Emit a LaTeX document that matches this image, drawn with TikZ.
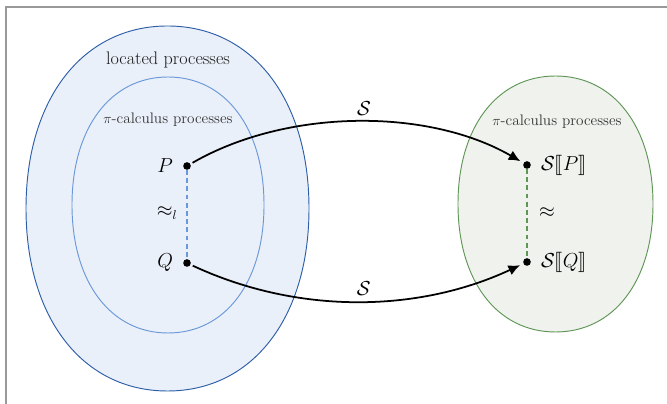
\documentclass[tikz,border=0pt]{standalone}
\usepackage{amsmath,amssymb,stmaryrd}
\usetikzlibrary{arrows.meta,positioning}
\definecolor{outerfill}{HTML}{EAF0F9}
\definecolor{outerline}{HTML}{2C5EA8}
\definecolor{innerline}{HTML}{6A98DA}
\definecolor{greenfill}{HTML}{EFF2ED}
\definecolor{greenline}{HTML}{5F9656}
\definecolor{frameline}{HTML}{999999}
% rounded oval region: centre x, centre y, half width, half height
\newcommand{\regionpath}[4]{({#1+#3},{#2})
 .. controls ({#1+#3},{#2+.6*#4}) and ({#1+.6*#3},{#2+#4}) .. ({#1},{#2+#4})
 .. controls ({#1-.6*#3},{#2+#4}) and ({#1-#3},{#2+.6*#4}) .. ({#1-#3},{#2})
 .. controls ({#1-#3},{#2-.6*#4}) and ({#1-.6*#3},{#2-#4}) .. ({#1},{#2-#4})
 .. controls ({#1+.6*#3},{#2-#4}) and ({#1+#3},{#2-.6*#4}) .. ({#1+#3},{#2}) -- cycle}

\begin{document}
\begin{tikzpicture}[x=.03cm,y=.03cm,node distance=5pt,
 dot/.style={circle,fill=black,inner sep=0pt,minimum size=6.5pt},
 mathlbl/.style={font=\fontsize{16}{18}\selectfont},
 setlbl/.style={text=black!80,font=\fontsize{13}{15}\selectfont},
 map/.style={-{Latex[length=10pt,width=9pt]},line width=1.5pt,shorten >=3pt,shorten <=2pt},
 >={Latex}]
\useasboundingbox (0,0) rectangle (667,404);
\draw[frameline,line width=1pt] (6,0)--(6,397)--(667,397);
% regions
\draw[outerline,fill=outerfill,line width=.8pt] \regionpath{167.5}{195.5}{141.5}{182.5};
\draw[innerline,fill=outerfill,line width=.8pt] \regionpath{168}{199}{96}{128};
\draw[greenline,fill=greenfill,line width=.8pt] \regionpath{555.5}{200}{97.5}{128};
\node[text=black!90,font=\fontsize{15.5}{18}\selectfont] (loc) at (168,344) {located processes};
\node[setlbl] (piL) at (168,284) {$\pi$-calculus processes};
\node[setlbl] (piR) at (557,282) {$\pi$-calculus processes};
% processes
\node[dot] (p) at (187,238) {};
\node[dot] (q) at (187,141) {};
\node[dot] (sp) at (527,239) {};
\node[dot] (sq) at (527,142) {};
\node[mathlbl,left=of p] (pl) {$P$};
\node[mathlbl,left=of q] (ql) {$Q$};
\node[mathlbl,right=of sp] (spl) {$\mathcal{S}\llbracket P\rrbracket$};
\node[mathlbl,right=of sq] (sql) {$\mathcal{S}\llbracket Q\rrbracket$};
\node[mathlbl] (eql) at (167,191) {$\approx_l$};
\node[mathlbl] (eq) at (547,191) {$\approx$};
\foreach \a/\b/\c in {p/q/innerline,sp/sq/greenline}
 \draw[\c,dash pattern=on 4pt off 3pt,line width=1pt] (\a)--(\b);
% translation
\draw[map] (p) to[out=30,in=150,looseness=.85]
 node[mathlbl,above=1pt,pos=.52] (sup) {$\mathcal{S}$} (sp);
\draw[map] (q) to[out=-25,in=-155,looseness=.9]
 node[mathlbl,above=1pt,pos=.52] (sdown) {$\mathcal{S}$} (sq);
\end{tikzpicture}
\end{document}
